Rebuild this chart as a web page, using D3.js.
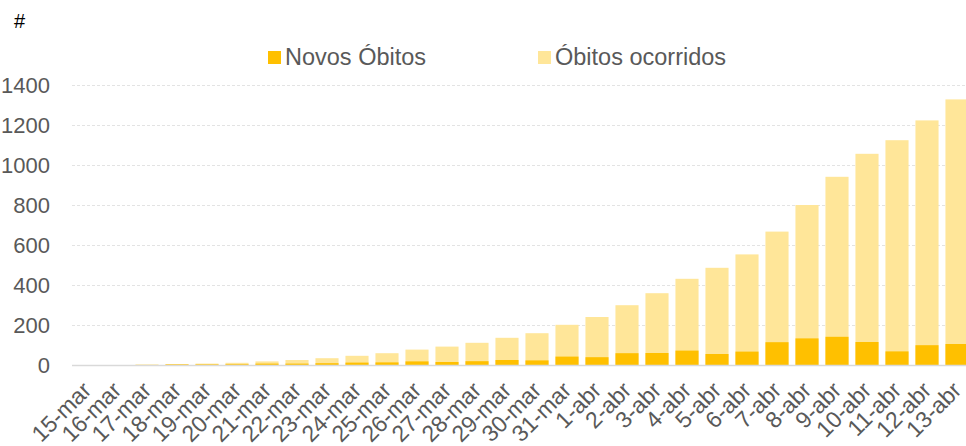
<!DOCTYPE html>
<html>
<head>
<meta charset="utf-8">
<script src="https://cdn.jsdelivr.net/npm/d3@7"></script>
<style>
  body { margin: 0; background: #fff; }
  svg text { font-family: "Liberation Sans", Arial, sans-serif; }
</style>
</head>
<body>
<svg id="chart"></svg>
<script>
// Dates on the x axis
var days = ["15-mar", "16-mar", "17-mar", "18-mar", "19-mar", "20-mar", "21-mar", "22-mar",
  "23-mar", "24-mar", "25-mar", "26-mar", "27-mar", "28-mar", "29-mar", "30-mar", "31-mar",
  "1-abr", "2-abr", "3-abr", "4-abr", "5-abr", "6-abr", "7-abr", "8-abr", "9-abr",
  "10-abr", "11-abr", "12-abr", "13-abr"];

// Cumulative deaths (light bars)
var obitosOcorridos = [0, 0, 1, 4, 7, 11, 18, 25, 34, 46, 59, 77, 92, 111, 136, 159, 201,
  240, 299, 359, 431, 486, 553, 667, 800, 941, 1056, 1124, 1223, 1328];

// New deaths per day (dark bars)
var novosObitos = [0, 0, 1, 3, 3, 4, 7, 7, 9, 12, 13, 18, 15, 19, 25, 23, 42,
  39, 59, 60, 72, 55, 67, 114, 133, 141, 115, 68, 99, 105];

var yTicks = [0, 200, 400, 600, 800, 1000, 1200, 1400];

var width = 966,
    height = 446,
    plotLeft = 72,
    plotTop = 85,
    plotBottom = 365;

var svg = d3.select("#chart")
  .attr("width", width)
  .attr("height", height);

var x = d3.scaleBand()
  .domain(days)
  .range([plotLeft, plotLeft + days.length * 30])
  .paddingInner(0.23)
  .paddingOuter(0.115);

var y = d3.scaleLinear()
  .domain([0, 1400])
  .range([plotBottom, plotTop]);

// gridlines
svg.append("g")
  .selectAll("line")
  .data(yTicks.slice(1))
  .enter().append("line")
  .attr("x1", plotLeft)
  .attr("x2", width)
  .attr("y1", function(d) { return Math.round(y(d)) + 0.5; })
  .attr("y2", function(d) { return Math.round(y(d)) + 0.5; })
  .attr("stroke", "#e3e3e3")
  .attr("stroke-width", 1)
  .attr("stroke-dasharray", "3,2");

// y tick labels
svg.append("g")
  .selectAll("text")
  .data(yTicks)
  .enter().append("text")
  .attr("x", 50)
  .attr("y", function(d) { return y(d); })
  .attr("dy", "0.36em")
  .attr("text-anchor", "end")
  .attr("fill", "#595959")
  .style("font-size", "22px")
  .text(function(d) { return d; });

// light bars: cumulative
svg.append("g")
  .selectAll("rect")
  .data(obitosOcorridos)
  .enter().append("rect")
  .attr("x", function(d, i) { return x(days[i]); })
  .attr("width", x.bandwidth())
  .attr("y", function(d) { return y(d); })
  .attr("height", function(d) { return plotBottom - y(d); })
  .attr("fill", "#FFE699");

// dark bars: new deaths
svg.append("g")
  .selectAll("rect")
  .data(novosObitos)
  .enter().append("rect")
  .attr("x", function(d, i) { return x(days[i]); })
  .attr("width", x.bandwidth())
  .attr("y", function(d) { return y(d); })
  .attr("height", function(d) { return plotBottom - y(d); })
  .attr("fill", "#FFC000");

// baseline
svg.append("line")
  .attr("x1", plotLeft)
  .attr("x2", width)
  .attr("y1", plotBottom + 0.5)
  .attr("y2", plotBottom + 0.5)
  .attr("stroke", "#d9d9d9")
  .attr("stroke-width", 1.5);

// x labels, rotated
svg.append("g")
  .selectAll("text")
  .data(days)
  .enter().append("text")
  .attr("transform", function(d) {
    return "translate(" + (x(d) + x.bandwidth() / 2) + "," + (plotBottom + 21) + ") rotate(-45)";
  })
  .attr("text-anchor", "end")
  .attr("dy", "0.35em")
  .attr("fill", "#595959")
  .style("font-size", "23px")
  .text(function(d) { return d; });

// unit label
svg.append("text")
  .attr("x", 14)
  .attr("y", 28)
  .attr("fill", "#000")
  .style("font-size", "20px")
  .text("#");

// legend
var legend = [
  { label: "Novos Óbitos", color: "#FFC000", x: 268 },
  { label: "Óbitos ocorridos", color: "#FFE699", x: 538 }
];

var lg = svg.append("g")
  .selectAll("g")
  .data(legend)
  .enter().append("g")
  .attr("transform", function(d) { return "translate(" + d.x + ",51)"; });

lg.append("rect")
  .attr("width", 13)
  .attr("height", 13)
  .attr("fill", function(d) { return d.color; });

lg.append("text")
  .attr("x", 17)
  .attr("y", 14)
  .attr("fill", "#595959")
  .style("font-size", "23.5px")
  .text(function(d) { return d.label; });
</script>
</body>
</html>
